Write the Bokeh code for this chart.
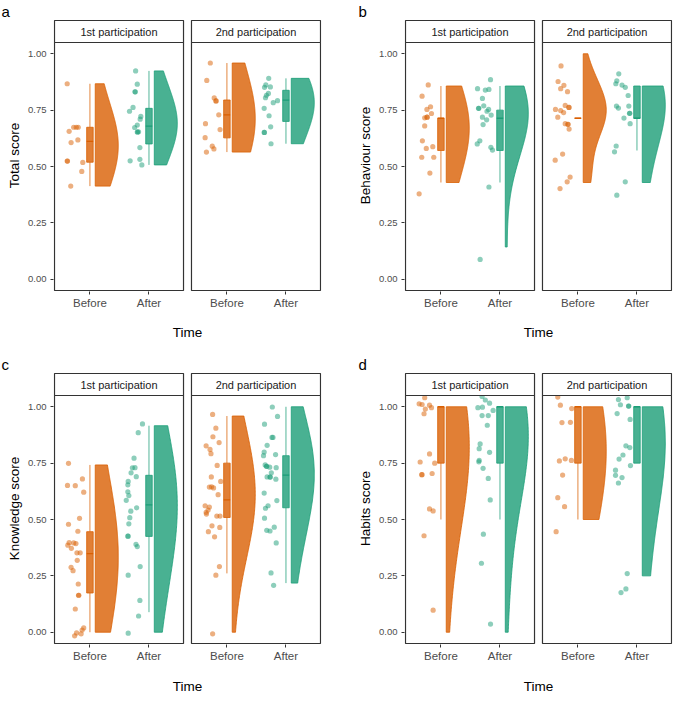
import numpy as np
from bokeh.plotting import figure
from bokeh.models import Range1d, FixedTicker, PrintfTickFormatter, Title
from bokeh.layouts import column, row
from bokeh.core.properties import value
from bokeh.embed import file_html
from bokeh.resources import INLINE

# ---------------- data ----------------
times = ["Before", "After"]
facets = ["1st participation", "2nd participation"]

# Total score
total_1_before_y = [0.867, 0.656, 0.674, 0.674, 0.674, 0.618, 0.606, 0.524, 0.524, 0.518, 0.478, 0.413]
total_1_before_dx = [-0.385, -0.352, -0.275, -0.231, -0.198, -0.204, -0.319, -0.385, -0.380, -0.121, -0.138, -0.325]
total_1_after_y = [0.924, 0.865, 0.831, 0.831, 0.762, 0.745, 0.722, 0.710, 0.684, 0.673, 0.654, 0.653, 0.653, 0.584, 0.525, 0.532, 0.507]
total_1_after_dx = [-0.226, -0.198, -0.237, -0.232, -0.270, -0.330, -0.138, -0.149, -0.198, -0.242, -0.176, -0.198, -0.193, -0.154, -0.319, -0.154, -0.121]
total_2_before_y = [0.959, 0.882, 0.804, 0.791, 0.791, 0.729, 0.690, 0.664, 0.628, 0.590, 0.578, 0.564]
total_2_before_dx = [-0.281, -0.341, -0.215, -0.187, -0.182, -0.138, -0.363, -0.116, -0.369, -0.248, -0.220, -0.347]
total_2_after_y = [0.891, 0.862, 0.851, 0.853, 0.824, 0.816, 0.805, 0.792, 0.783, 0.758, 0.725, 0.676, 0.651, 0.651, 0.601]
total_2_after_dx = [-0.292, -0.341, -0.363, -0.264, -0.297, -0.330, -0.347, -0.143, -0.215, -0.369, -0.286, -0.259, -0.369, -0.364, -0.253]
# box / violin stats, order: 1st Before, 1st After, 2nd Before, 2nd After
total_q1 = [0.519, 0.600, 0.627, 0.700]
total_med = [0.611, 0.679, 0.729, 0.794]
total_q3 = [0.674, 0.758, 0.795, 0.838]
total_wlo = [0.413, 0.507, 0.564, 0.601]
total_whi = [0.867, 0.924, 0.959, 0.891]
total_vmin = [0.413, 0.507, 0.564, 0.601]
total_vmax = [0.867, 0.924, 0.959, 0.891]

# Behaviour score
beh_1_before_y = [0.862, 0.812, 0.765, 0.753, 0.735, 0.719, 0.719, 0.716, 0.680, 0.614, 0.588, 0.580, 0.541, 0.541, 0.471, 0.379]
beh_1_before_dx = [-0.215, -0.319, -0.176, -0.237, -0.160, -0.237, -0.232, -0.275, -0.275, -0.314, -0.138, -0.248, -0.325, -0.121, -0.187, -0.369]
beh_1_after_y = [0.885, 0.845, 0.839, 0.842, 0.802, 0.758, 0.758, 0.769, 0.753, 0.745, 0.719, 0.728, 0.707, 0.686, 0.614, 0.600, 0.585, 0.573, 0.409, 0.088]
beh_1_after_dx = [-0.160, -0.380, -0.248, -0.187, -0.297, -0.363, -0.358, -0.275, -0.193, -0.220, -0.297, -0.149, -0.226, -0.286, -0.341, -0.385, -0.154, -0.127, -0.187, -0.336]
beh_2_before_y = [0.946, 0.877, 0.860, 0.845, 0.832, 0.771, 0.753, 0.748, 0.762, 0.762, 0.739, 0.719, 0.690, 0.687, 0.687, 0.666, 0.555, 0.528, 0.453, 0.432, 0.402]
beh_2_before_dx = [-0.286, -0.336, -0.237, -0.292, -0.176, -0.215, -0.380, -0.292, -0.149, -0.154, -0.242, -0.341, -0.215, -0.171, -0.165, -0.149, -0.259, -0.385, -0.132, -0.182, -0.303]
beh_2_after_y = [0.911, 0.880, 0.867, 0.861, 0.851, 0.815, 0.768, 0.759, 0.768, 0.736, 0.736, 0.715, 0.690, 0.591, 0.565, 0.432, 0.373]
beh_2_after_dx = [-0.308, -0.341, -0.358, -0.253, -0.198, -0.149, -0.347, -0.314, -0.138, -0.121, -0.126, -0.220, -0.116, -0.352, -0.380, -0.198, -0.341]
beh_q1 = [0.571, 0.571, 0.714, 0.714]
beh_med = [0.714, 0.714, 0.714, 0.714]
beh_q3 = [0.714, 0.750, 0.714, 0.857]
beh_wlo = [0.429, 0.429, 0.714, 0.571]
beh_whi = [0.857, 0.857, 0.714, 0.857]
beh_vmin = [0.429, 0.143, 0.429, 0.429]
beh_vmax = [0.857, 0.857, 1.000, 0.857]

# Knowledge score
know_1_before_y = [0.749, 0.651, 0.650, 0.680, 0.621, 0.505, 0.479, 0.448, 0.397, 0.386, 0.396, 0.393, 0.372, 0.352, 0.352, 0.319, 0.288, 0.273, 0.214, 0.164, 0.164, 0.103, 0.019, 0.010, -0.003, -0.016, -0.007]
know_1_before_dx = [-0.363, -0.380, -0.248, -0.127, -0.105, -0.176, -0.363, -0.204, -0.352, -0.374, -0.275, -0.237, -0.314, -0.220, -0.165, -0.215, -0.319, -0.286, -0.198, -0.193, -0.188, -0.248, -0.105, -0.132, -0.226, -0.259, -0.149]
know_1_after_y = [0.924, 0.885, 0.772, 0.729, 0.730, 0.707, 0.690, 0.669, 0.654, 0.623, 0.606, 0.585, 0.552, 0.537, 0.508, 0.481, 0.426, 0.426, 0.390, 0.380, 0.291, 0.253, 0.141, 0.072, -0.004]
know_1_after_dx = [-0.110, -0.182, -0.253, -0.281, -0.237, -0.303, -0.215, -0.352, -0.358, -0.358, -0.341, -0.385, -0.209, -0.308, -0.325, -0.341, -0.358, -0.353, -0.220, -0.198, -0.149, -0.352, -0.154, -0.176, -0.352]
know_2_before_y = [0.966, 0.905, 0.867, 0.841, 0.827, 0.811, 0.792, 0.740, 0.689, 0.669, 0.644, 0.645, 0.640, 0.610, 0.561, 0.555, 0.532, 0.542, 0.524, 0.515, 0.515, 0.472, 0.465, 0.446, 0.423, 0.291, 0.253, -0.007]
know_2_before_dx = [-0.242, -0.187, -0.237, -0.132, -0.352, -0.286, -0.270, -0.165, -0.264, -0.105, -0.297, -0.259, -0.226, -0.149, -0.369, -0.297, -0.352, -0.319, -0.347, -0.171, -0.116, -0.253, -0.121, -0.314, -0.209, -0.127, -0.187, -0.242]
know_2_after_y = [0.999, 0.957, 0.923, 0.864, 0.864, 0.829, 0.799, 0.783, 0.788, 0.742, 0.736, 0.736, 0.732, 0.730, 0.707, 0.689, 0.688, 0.688, 0.679, 0.617, 0.584, 0.561, 0.550, 0.506, 0.466, 0.452, 0.449, 0.396, 0.263, 0.208]
know_2_after_dx = [-0.231, -0.143, -0.363, -0.237, -0.220, -0.319, -0.369, -0.380, -0.176, -0.352, -0.330, -0.325, -0.275, -0.165, -0.248, -0.319, -0.270, -0.265, -0.171, -0.369, -0.154, -0.303, -0.347, -0.363, -0.198, -0.325, -0.270, -0.165, -0.253, -0.209]
know_q1 = [0.174, 0.425, 0.509, 0.552]
know_med = [0.349, 0.565, 0.587, 0.697]
know_q3 = [0.446, 0.696, 0.750, 0.783]
know_wlo = [0.000, 0.089, 0.261, 0.218]
know_whi = [0.742, 0.916, 0.959, 1.000]
know_vmin = [0.000, 0.000, 0.000, 0.218]
know_vmax = [0.742, 0.916, 0.959, 1.000]

# Habits score
hab_1_before_y = [1.040, 1.013, 1.010, 1.007, 0.990, 0.996, 0.969, 0.791, 0.755, 0.750, 0.699, 0.699, 0.704, 0.547, 0.538, 0.428, 0.098]
hab_1_before_dx = [-0.275, -0.369, -0.319, -0.193, -0.264, -0.160, -0.286, -0.193, -0.352, -0.105, -0.325, -0.320, -0.149, -0.193, -0.132, -0.286, -0.132]
hab_1_after_y = [1.046, 1.030, 1.016, 0.996, 0.998, 0.984, 0.961, 0.961, 0.918, 0.835, 0.814, 0.798, 0.762, 0.756, 0.727, 0.682, 0.587, 0.435, 0.306, 0.036]
hab_1_after_dx = [-0.303, -0.248, -0.176, -0.374, -0.297, -0.116, -0.303, -0.198, -0.215, -0.336, -0.352, -0.176, -0.352, -0.358, -0.286, -0.198, -0.165, -0.281, -0.314, -0.160]
hab_2_before_y = [1.043, 1.007, 0.992, 0.930, 0.931, 0.760, 0.769, 0.762, 0.697, 0.597, 0.557, 0.446]
hab_2_before_dx = [-0.341, -0.297, -0.105, -0.270, -0.127, -0.314, -0.215, -0.110, -0.259, -0.341, -0.226, -0.369]
hab_2_after_y = [1.032, 1.040, 1.009, 1.003, 1.003, 0.970, 0.944, 0.827, 0.819, 0.786, 0.768, 0.739, 0.719, 0.696, 0.686, 0.662, 0.260, 0.192, 0.176]
hab_2_after_dx = [-0.314, -0.165, -0.280, -0.143, -0.138, -0.336, -0.116, -0.187, -0.121, -0.237, -0.303, -0.110, -0.363, -0.363, -0.253, -0.314, -0.165, -0.187, -0.270]
hab_q1 = [0.75, 0.75, 0.75, 0.75]
hab_med = [1.00, 1.00, 1.00, 1.00]
hab_q3 = [1.00, 1.00, 1.00, 1.00]
hab_wlo = [0.50, 0.50, 0.50, 0.75]
hab_whi = [1.00, 1.00, 1.00, 1.00]
hab_vmin = [0.00, 0.00, 0.50, 0.25]
hab_vmax = [1.00, 1.00, 1.00, 1.00]

y_ticks = [0.0, 0.25, 0.5, 0.75, 1.0]

# ---------------- styling / geometry ----------------
ORANGE = "#D95F02"
GREEN = "#1B9E77"
COLS = [ORANGE, GREEN, ORANGE, GREEN]
FONT = "Liberation Sans"
DARK = "#333333"

FL, FR = 0.4, 2.585          # facet extent in category units
OFF = 2.32                    # shift of the 2nd facet
U = 59.0                      # px per category unit
PADX = 1.0 / U
Y0, Y1 = -0.05, 1.05
FW = 268
FH = 272
PANEL_H = FH - 2 - 22
UY = PANEL_H / (Y1 - Y0)
STRIP = 22.0 / UY
PADY = 1.0 / UY
VW = 0.39                     # violin max width
VN = 0.09                     # violin nudge
BW = 0.055                    # half box width
ADJUST = 2.6                  # density bandwidth adjust

centers = [1.0, 2.0, 1.0 + OFF, 2.0 + OFF]


def nrd0(x):
    x = np.asarray(x, float)
    n = len(x)
    sd = x.std(ddof=1)
    q75, q25 = np.percentile(x, [75, 25])
    lo = min(sd, (q75 - q25) / 1.34)
    if lo <= 0:
        lo = sd if sd > 0 else 1.0
    return 0.9 * lo * n ** -0.2


def half_violin(vals, vmin, vmax, base):
    v = np.asarray(vals, float)
    bw = nrd0(v) * ADJUST
    g = np.linspace(vmin, vmax, 160)
    d = np.exp(-0.5 * ((g[:, None] - v[None, :]) / bw) ** 2).sum(axis=1)
    w = d / d.max() * VW
    xs = np.concatenate([[base], base + w, [base]])
    ys = np.concatenate([[vmin], g, [vmax]])
    return list(xs), list(ys)


def make_panel(letter, letter_off, ylab, groups, q1, med, q3, wlo, whi, vmin, vmax,
               left, right, top, bottom, xlab_standoff):
    p = figure(frame_width=FW, frame_height=FH,
               x_range=Range1d(FL - PADX, FR + OFF + PADX),
               y_range=Range1d(Y0 - PADY, Y1 + STRIP + PADY),
               output_backend="svg", toolbar_location=None,
               min_border_left=left, min_border_right=right,
               min_border_top=top, min_border_bottom=bottom)
    p.xgrid.visible = False
    p.ygrid.visible = False
    p.outline_line_color = None
    p.background_fill_color = "white"
    p.border_fill_color = "white"

    # panel letter
    p.title = Title(text=letter, align="left", offset=letter_off, standoff=0,
                    text_font=FONT, text_font_size="15px", text_font_style="normal",
                    text_color="black")

    # violins
    vx, vy = [], []
    for i, (ys, dxs) in enumerate(groups):
        xs_, ys_ = half_violin(ys, vmin[i], vmax[i], centers[i] + VN)
        vx.append(xs_)
        vy.append(ys_)
    p.patches(vx, vy, fill_color=COLS, fill_alpha=0.8, line_color=COLS, line_width=0.8)

    # whiskers
    p.segment(x0=centers, y0=q3, x1=centers, y1=whi, line_color=COLS, line_width=1.0, line_alpha=0.75)
    p.segment(x0=centers, y0=wlo, x1=centers, y1=q1, line_color=COLS, line_width=1.0, line_alpha=0.75)
    # boxes
    p.quad(left=[c - BW for c in centers], right=[c + BW for c in centers],
           bottom=q1, top=q3, fill_color=COLS, fill_alpha=0.8,
           line_color=COLS, line_width=0.8)
    p.segment(x0=[c - BW for c in centers], y0=med, x1=[c + BW for c in centers], y1=med,
              line_color=COLS, line_width=1.3)

    # jittered points
    for i, (ys, dxs) in enumerate(groups):
        p.scatter(x=[centers[i] + d for d in dxs], y=ys, size=5.2,
                  fill_color=COLS[i], fill_alpha=0.5, line_color=None)

    # facet borders and strips
    p.quad(left=[FL, FL + OFF], right=[FR, FR + OFF], bottom=[Y0, Y0], top=[Y1, Y1],
           fill_color=None, line_color=DARK, line_width=1.2)
    p.quad(left=[FL, FL + OFF], right=[FR, FR + OFF], bottom=[Y1, Y1],
           top=[Y1 + STRIP, Y1 + STRIP], fill_color="white", line_color=DARK, line_width=1.2)
    p.text(x=[(FL + FR) / 2, (FL + FR) / 2 + OFF], y=[Y1 + STRIP / 2] * 2, text=facets,
           text_align="center", text_baseline="middle", text_font_size="11px",
           text_font=value(FONT), text_color="#1A1A1A")

    # axes
    xa = p.xaxis[0]
    xa.ticker = FixedTicker(ticks=centers)
    xa.major_label_overrides = {c: times[i % 2] for i, c in enumerate(centers)}
    xa.axis_label = "Time"
    xa.axis_label_text_font = FONT
    xa.axis_label_text_font_size = "13.5px"
    xa.axis_label_text_font_style = "normal"
    xa.axis_label_text_color = "black"
    xa.axis_label_standoff = xlab_standoff
    xa.major_label_text_font_size = "11.5px"
    xa.major_label_standoff = 2

    ya = p.yaxis[0]
    ya.ticker = FixedTicker(ticks=y_ticks)
    ya.formatter = PrintfTickFormatter(format="%.2f")
    ya.major_label_text_font_size = "9.5px"
    ya.major_label_standoff = 4

    for ax in (xa, ya):
        ax.axis_line_color = None
        ax.major_tick_line_color = DARK
        ax.major_tick_out = 3
        ax.major_tick_in = 0
        ax.minor_tick_line_color = None
        ax.major_label_text_color = "#4D4D4D"
        ax.major_label_text_font = FONT

    # y title, centred on the panel (not on panel + strip)
    shift = (FH / 2.0) - (1 + PANEL_H / 2.0)
    p.add_layout(Title(text=ylab, align="center", offset=-shift, standoff=8,
                       text_font=FONT, text_font_size="13.5px", text_font_style="normal",
                       text_color="black"), "left")
    return p


pa = make_panel("a", -52, "Total score",
                [(total_1_before_y, total_1_before_dx), (total_1_after_y, total_1_after_dx),
                 (total_2_before_y, total_2_before_dx), (total_2_after_y, total_2_after_dx)],
                total_q1, total_med, total_q3, total_wlo, total_whi, total_vmin, total_vmax,
                52, 17, 18, 54, 13)
pb = make_panel("b", -46, "Behaviour score",
                [(beh_1_before_y, beh_1_before_dx), (beh_1_after_y, beh_1_after_dx),
                 (beh_2_before_y, beh_2_before_dx), (beh_2_after_y, beh_2_after_dx)],
                beh_q1, beh_med, beh_q3, beh_wlo, beh_whi, beh_vmin, beh_vmax,
                66, 3, 18, 54, 13)
pc = make_panel("c", -52, "Knowledge score",
                [(know_1_before_y, know_1_before_dx), (know_1_after_y, know_1_after_dx),
                 (know_2_before_y, know_2_before_dx), (know_2_after_y, know_2_after_dx)],
                know_q1, know_med, know_q3, know_wlo, know_whi, know_vmin, know_vmax,
                52, 17, 27, 45, 14)
pd_ = make_panel("d", -46, "Habits score",
                 [(hab_1_before_y, hab_1_before_dx), (hab_1_after_y, hab_1_after_dx),
                  (hab_2_before_y, hab_2_before_dx), (hab_2_after_y, hab_2_after_dx)],
                 hab_q1, hab_med, hab_q3, hab_wlo, hab_whi, hab_vmin, hab_vmax,
                 66, 3, 27, 45, 14)

layout = column(row(pa, pb, spacing=0), row(pc, pd_, spacing=0), spacing=0)

with open("out.html", "w") as f:
    f.write(file_html(layout, INLINE))
